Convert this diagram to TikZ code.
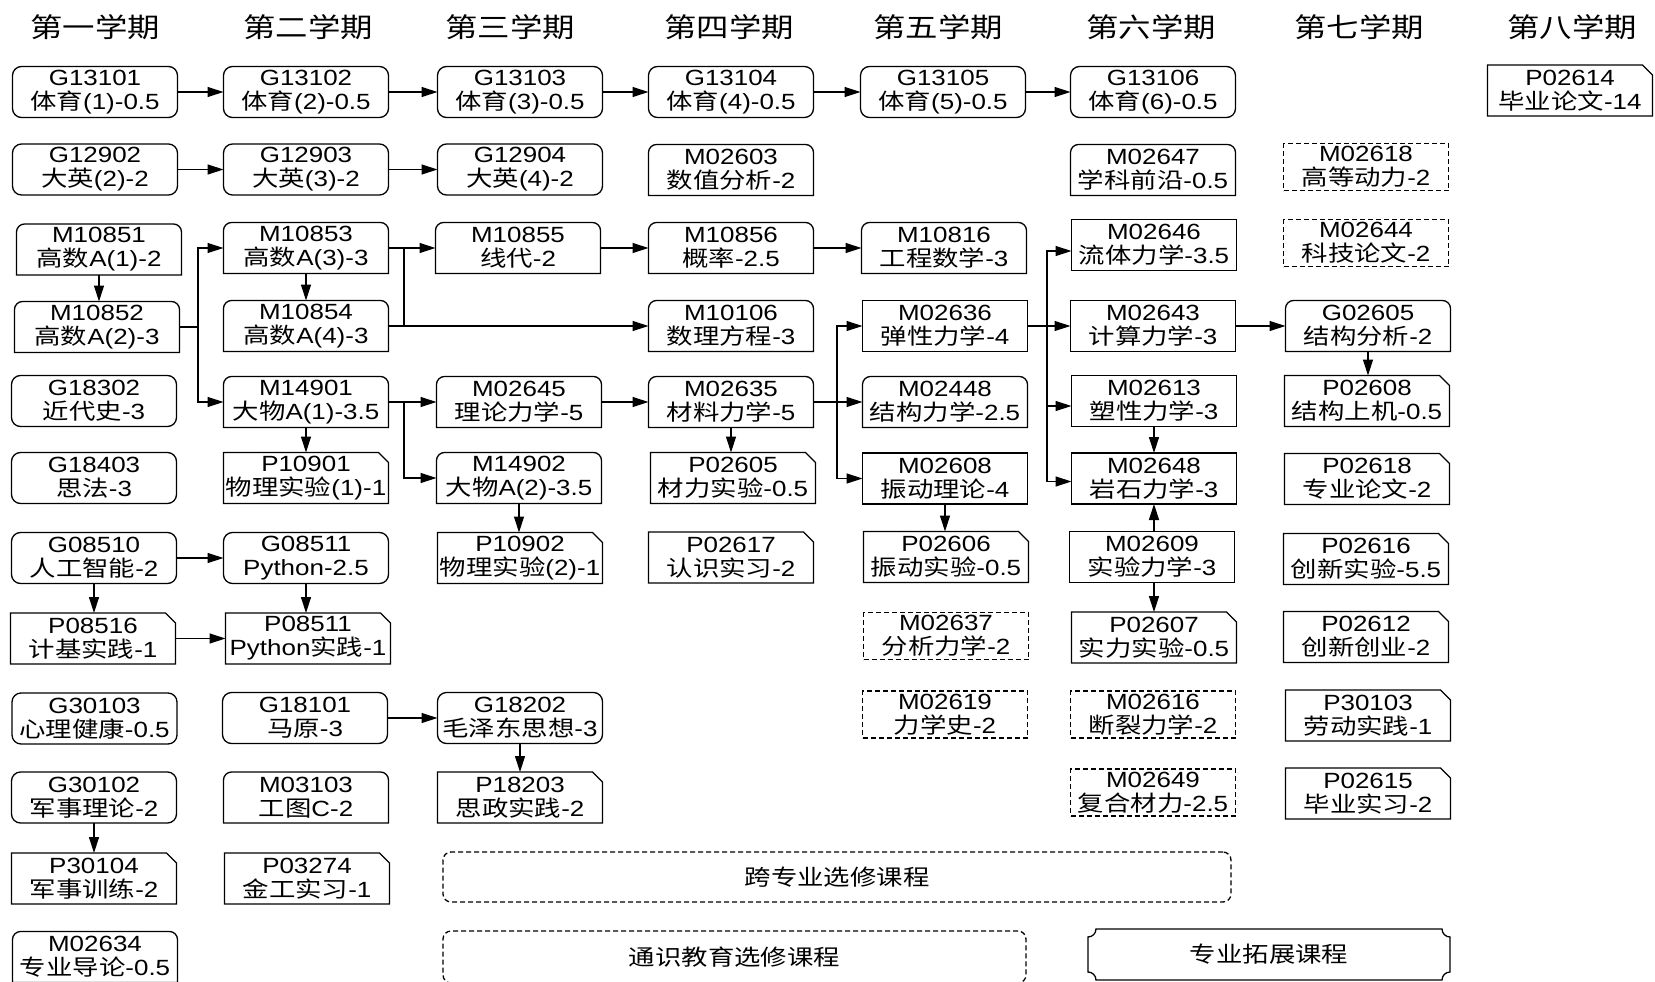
\documentclass[tikz,border=0pt]{standalone}
\usepackage{fontspec}
\setmainfont{Liberation Sans}[FakeStretch=1.18]
\newfontfamily\cjk{Noto Sans CJK SC}[FakeStretch=1.2]
\usetikzlibrary{arrows.meta}
\newcommand\zh[1]{{\cjk #1}}
\tikzset{
 bd/.style={line width=1.3pt, draw=black},
 boxbase/.style={minimum width=165pt, minimum height=51pt, inner sep=0pt, outer sep=0pt, align=center, font=\fontsize{22}{24}\selectfont},
 crnd/.style={boxbase, bd, rounded corners=9pt},
 crect/.style={boxbase, bd},
 cdsh/.style={boxbase, bd, dash pattern=on 5pt off 3pt, minimum height=47pt},
 ctop/.style={boxbase},
 cdog/.style={boxbase},
 arr/.style={bd, -{Triangle[length=16pt,width=10pt]}},
 ln/.style={bd},
 hdr/.style={font=\fontsize{27}{30}\selectfont\cjk, inner sep=0pt},
 bigtxt/.style={font=\fontsize{22}{24}\selectfont\cjk, inner sep=0pt, outer sep=0pt},
}
\newcommand\shctop[1]{\draw[bd] (#1.south west) -- ([yshift=-8pt]#1.north west) arc[start angle=180,end angle=90,radius=8pt] -- ([xshift=-8pt]#1.north east) arc[start angle=90,end angle=0,radius=8pt] -- (#1.south east) -- cycle;}
\newcommand\shcdog[1]{\draw[bd] (#1.south west) -- (#1.north west) -- ([xshift=-10pt]#1.north east) -- ([yshift=-10pt]#1.north east) -- (#1.south east) -- cycle;}
\newcommand\crs[5]{\node[#4] (#1) at (#2,-#3) {#1\\#5}; \csname sh#4\endcsname{#1}}
\begin{document}
\begin{tikzpicture}[x=1pt,y=1pt]
\useasboundingbox[fill=white] (0,0) rectangle (1655,-982);
% headers
\node[hdr] (h1) at (95,-27) {第一学期};
\node[hdr] (h2) at (308,-27) {第二学期};
\node[hdr] (h3) at (510,-27) {第三学期};
\node[hdr] (h4) at (729,-27) {第四学期};
\node[hdr] (h5) at (938,-27) {第五学期};
\node[hdr] (h6) at (1151,-27) {第六学期};
\node[hdr] (h7) at (1359,-27) {第七学期};
\node[hdr] (h8) at (1572,-27) {第八学期};
% row 1
\crs{G13101}{95}{92}{crnd}{\zh{体育}(1)-0.5}
\crs{G13102}{306}{92}{crnd}{\zh{体育}(2)-0.5}
\crs{G13103}{520}{92}{crnd}{\zh{体育}(3)-0.5}
\crs{G13104}{731}{92}{crnd}{\zh{体育}(4)-0.5}
\crs{G13105}{943}{92}{crnd}{\zh{体育}(5)-0.5}
\crs{G13106}{1153}{92}{crnd}{\zh{体育}(6)-0.5}
\crs{P02614}{1570}{90.5}{cdog}{\zh{毕业论文}-14}
% row 2
\crs{G12902}{95}{169.5}{crnd}{\zh{大英}(2)-2}
\crs{G12903}{306}{169.5}{crnd}{\zh{大英}(3)-2}
\crs{G12904}{520}{169.5}{crnd}{\zh{大英}(4)-2}
\crs{M02603}{731}{170}{ctop}{\zh{数值分析}-2}
\crs{M02647}{1153}{170}{ctop}{\zh{学科前沿}-0.5}
\crs{M02618}{1366}{167}{cdsh}{\zh{高等动力}-2}
% row 3
\crs{M10851}{99}{249.5}{ctop}{\zh{高数}A(1)-2}
\crs{M10853}{306}{248}{ctop}{\zh{高数}A(3)-3}
\crs{M10855}{518}{248}{ctop}{\zh{线代}-2}
\crs{M10856}{731}{248}{ctop}{\zh{概率}-2.5}
\crs{M10816}{944}{248}{ctop}{\zh{工程数学}-3}
\crs{M02646}{1154}{245}{crect}{\zh{流体力学}-3.5}
\crs{M02644}{1366}{243}{cdsh}{\zh{科技论文}-2}
% row 4
\crs{M10852}{97}{327}{ctop}{\zh{高数}A(2)-3}
\crs{M10854}{306}{326}{ctop}{\zh{高数}A(4)-3}
\crs{M10106}{731}{326}{ctop}{\zh{数理方程}-3}
\crs{M02636}{945}{326}{crect}{\zh{弹性力学}-4}
\crs{M02643}{1153}{326}{crect}{\zh{计算力学}-3}
\crs{G02605}{1368}{326}{ctop}{\zh{结构分析}-2}
% row 5
\crs{G18302}{94}{401}{crnd}{\zh{近代史}-3}
\crs{M14901}{306}{402}{ctop}{\zh{大物}A(1)-3.5}
\crs{M02645}{519}{402}{ctop}{\zh{理论力学}-5}
\crs{M02635}{731}{402}{ctop}{\zh{材料力学}-5}
\crs{M02448}{945}{402}{ctop}{\zh{结构力学}-2.5}
\crs{M02613}{1154}{401}{crect}{\zh{塑性力学}-3}
\crs{P02608}{1367}{401}{cdog}{\zh{结构上机}-0.5}
% row 6
\crs{G18403}{94}{478}{crnd}{\zh{思法}-3}
\crs{P10901}{306}{478}{cdog}{\zh{物理实验}(1)-1}
\crs{M14902}{519}{478}{ctop}{\zh{大物}A(2)-3.5}
\crs{P02605}{733}{478}{cdog}{\zh{材力实验}-0.5}
\crs{M02608}{945}{478.5}{crect}{\zh{振动理论}-4}
\crs{M02648}{1154}{478.5}{crect}{\zh{岩石力学}-3}
\crs{P02618}{1367}{479}{cdog}{\zh{专业论文}-2}
% row 7
\crs{G08510}{94}{558}{crnd}{\zh{人工智能}-2}
\crs{G08511}{306}{558}{crnd}{Python-2.5}
\crs{P10902}{520}{558}{cdog}{\zh{物理实验}(2)-1}
\crs{P02617}{731}{557.5}{cdog}{\zh{认识实习}-2}
\crs{P02606}{946}{557}{cdog}{\zh{振动实验}-0.5}
\crs{M02609}{1152}{557}{crect}{\zh{实验力学}-3}
\crs{P02616}{1366}{559}{cdog}{\zh{创新实验}-5.5}
% row 8
\crs{P08516}{93}{638.5}{cdog}{\zh{计基实践}-1}
\crs{P08511}{308}{638.5}{cdog}{Python\zh{实践}-1}
\crs{M02637}{946}{636}{cdsh}{\zh{分析力学}-2}
\crs{P02607}{1154}{637.5}{cdog}{\zh{实力实验}-0.5}
\crs{P02612}{1366}{637}{cdog}{\zh{创新创业}-2}
% row 9
\crs{G30103}{94.5}{718.5}{crnd}{\zh{心理健康}-0.5}
\crs{G18101}{305}{718}{crnd}{\zh{马原}-3}
\crs{G18202}{520}{718}{crnd}{\zh{毛泽东思想}-3}
\crs{M02619}{945}{714.5}{cdsh}{\zh{力学史}-2}
\crs{M02616}{1153}{714.5}{cdsh}{\zh{断裂力学}-2}
\crs{P30103}{1368}{715.5}{cdog}{\zh{劳动实践}-1}
% row 10
\crs{G30102}{94}{797.5}{crnd}{\zh{军事理论}-2}
\crs{M03103}{306}{797.5}{ctop}{\zh{工图}C-2}
\crs{P18203}{520}{797.5}{cdog}{\zh{思政实践}-2}
\crs{M02649}{1153}{792.5}{cdsh}{\zh{复合材力}-2.5}
\crs{P02615}{1368}{793.5}{cdog}{\zh{毕业实习}-2}
% row 11
\crs{P30104}{94}{878.5}{cdog}{\zh{军事训练}-2}
\crs{P03274}{307}{878.5}{cdog}{\zh{金工实习}-1}
% row 12
\crs{M02634}{95}{957}{ctop}{\zh{专业导论}-0.5}
% big boxes
\node[bigtxt, bd, dash pattern=on 5pt off 3pt, rounded corners=8pt, minimum width=788pt, minimum height=50pt] (kzy) at (837,-877) {跨专业选修课程};
\node[bigtxt, bd, dash pattern=on 5pt off 3pt, rounded corners=8pt, minimum width=583pt, minimum height=52pt] (tsjy) at (734.5,-957) {通识教育选修课程};
\node[bigtxt, minimum width=362pt, minimum height=51pt] (zytz) at (1269,-954.5) {专业拓展课程};
\draw[bd] ([xshift=8pt]zytz.north west) -- ([xshift=-8pt]zytz.north east)
  arc[start angle=180,end angle=270,radius=8pt] -- ([yshift=8pt]zytz.south east)
  arc[start angle=90,end angle=180,radius=8pt] -- ([xshift=8pt]zytz.south west)
  arc[start angle=0,end angle=90,radius=8pt] -- ([yshift=-8pt]zytz.north west)
  arc[start angle=270,end angle=360,radius=8pt] -- cycle;
% bus coordinates
\coordinate (bA) at (198,0);
\coordinate (bB) at (404,0);
\coordinate (bD) at (837,0);
\coordinate (bE) at (1047,0);
% connectors
\draw[arr] (G13101.east) -- (G13102.west);
\draw[arr] (G13102.east) -- (G13103.west);
\draw[arr] (G13103.east) -- (G13104.west);
\draw[arr] (G13104.east) -- (G13105.west);
\draw[arr] (G13105.east) -- (G13106.west);
\draw[arr] (G12902.east) -- (G12903.west);
\draw[arr] (G12903.east) -- (G12904.west);
\draw[arr] (M10851.south) -- (M10851.south |- M10852.north);
\draw[ln] (M10852.east) -- (M10852.east -| bA);
\draw[arr] (M10852.east -| bA) |- (M10853.west);
\draw[arr] (M10852.east -| bA) |- (M14901.west);
\draw[arr] (M10853.south) -- (M10853.south |- M10854.north);
\draw[arr] (M10853.east) -- (M10855.west);
\draw[arr] (M10854.east) -- (M10106.west);
\draw[ln] (M10853.east -| bB) -- (M10854.east -| bB);
\draw[arr] (M10855.east) -- (M10856.west);
\draw[arr] (M10856.east) -- (M10816.west);
\draw[arr] (M14901.east) -- (M02645.west);
\draw[arr] (M14901.east -| bB) |- (M14902.west);
\draw[arr] (M14901.south) -- (M14901.south |- P10901.north);
\draw[arr] (M14902.south) -- (M14902.south |- P10902.north);
\draw[arr] (M02645.east) -- (M02635.west);
\draw[arr] (M02635.south) -- (M02635.south |- P02605.north);
\draw[arr] (M02635.east) -- (M02448.west);
\draw[arr] (M02635.east -| bD) |- (M02636.west);
\draw[arr] (M02635.east -| bD) |- (M02608.west);
\draw[arr] (M02608.south) -- (M02608.south |- P02606.north);
\draw[arr] (M02636.east) -- (M02643.west);
\draw[arr] (M02636.east -| bE) |- ([yshift=-6pt]M02646.west);
\draw[arr] (M02636.east -| bE) |- ([yshift=-5pt]M02613.west);
\draw[arr] (M02636.east -| bE) |- ([yshift=-3pt]M02648.west);
\draw[arr] (M02613.south) -- (M02613.south |- M02648.north);
\draw[arr] (M02609.north -| M02648.south) -- (M02648.south);
\draw[arr] (M02609.south -| P02607.north) -- (P02607.north);
\draw[arr] (M02643.east) -- (G02605.west);
\draw[arr] (G02605.south) -- (G02605.south |- P02608.north);
\draw[arr] (G08510.east) -- (G08511.west);
\draw[arr] (G08510.south) -- (G08510.south |- P08516.north);
\draw[arr] (G08511.south) -- (G08511.south |- P08511.north);
\draw[arr] (P08516.east) -- (P08511.west);
\draw[arr] (G18101.east) -- (G18202.west);
\draw[arr] (G18202.south) -- (G18202.south |- P18203.north);
\draw[arr] (G30102.south) -- (G30102.south |- P30104.north);
\end{tikzpicture}
\end{document}
